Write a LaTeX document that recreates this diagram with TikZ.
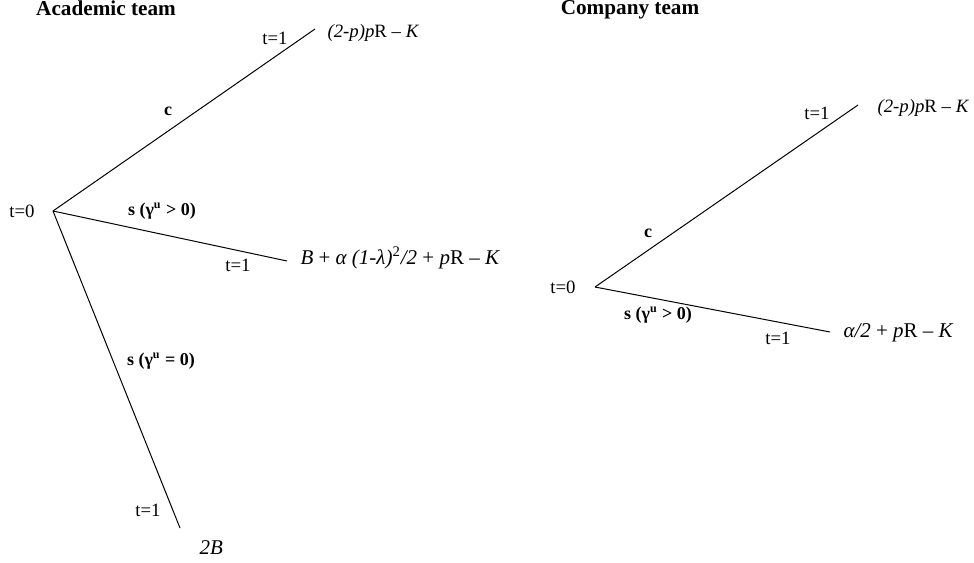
\documentclass[tikz,border=0pt]{standalone}
\usepackage{fontspec}
\setmainfont{Liberation Serif}
\begin{document}
\begin{tikzpicture}[x=0.5pt, y=-0.5pt, font=\fontsize{9}{11}\selectfont, line width=0.5pt,
    head/.style={font=\fontsize{10.6}{12}\selectfont\bfseries},
    act/.style={font=\fontsize{9}{11}\selectfont\bfseries, inner sep=0pt},
    pay/.style={anchor=west, inner sep=0pt, font=\fontsize{10.5}{12}\selectfont},
    paysmall/.style={pay, font=\fontsize{9.4}{11}\selectfont},
    tlab/.style={inner sep=0pt, font=\fontsize{9.4}{11}\selectfont}]
    \useasboundingbox (0,0) rectangle (974,562);
    % academic team
    \node[head] (ahead) at (106,8) {Academic team};
    \coordinate (A0) at (53,211);
    \coordinate (Ac) at (315,29);
    \coordinate (As) at (287,261);
    \coordinate (Az) at (180,528);
    \node[tlab] (at0) at (22,211) {t=0};
    \draw (A0) -- (Ac);
    \draw (A0) -- (As);
    \draw (A0) -- (Az);
    \node[act] (acl) at (168,111) {c};
    \node[act] (asl) at (162,211) {s (γ\textsuperscript{u} > 0)};
    \node[act] (azl) at (161,361) {s (γ\textsuperscript{u} = 0)};
    \node[tlab] (atc) at (275,38) {t=1};
    \node[tlab] (ats) at (238,265) {t=1};
    \node[tlab] (atz) at (148,510) {t=1};
    \node[paysmall] (apc) at (327,33) {\textit{(2-p)p}R – \textit{K}};
    \node[pay] (aps) at (300,258) {\textit{B} + \textit{α (1-λ)}\textsuperscript{2}\textit{/2} + \textit{p}R – \textit{K}};
    \node[pay] (apz) at (199,548) {\textit{2B}};
    % company team
    \node[head] (chead) at (630,10) {Company team};
    \coordinate (C0) at (595,287);
    \coordinate (Cc) at (858,105);
    \coordinate (Cs) at (830,332);
    \node[tlab] (ct0) at (563,287) {t=0};
    \draw (C0) -- (Cc);
    \draw (C0) -- (Cs);
    \node[act] (ccl) at (648,233) {c};
    \node[act] (csl) at (658,315) {s (γ\textsuperscript{u} > 0)};
    \node[tlab] (ctc) at (817,113) {t=1};
    \node[tlab] (cts) at (778,338) {t=1};
    \node[paysmall] (cpc) at (877,108) {\textit{(2-p)p}R – \textit{K}};
    \node[pay] (cps) at (843,333) {\textit{α/2} + \textit{p}R – \textit{K}};
\end{tikzpicture}
\end{document}
